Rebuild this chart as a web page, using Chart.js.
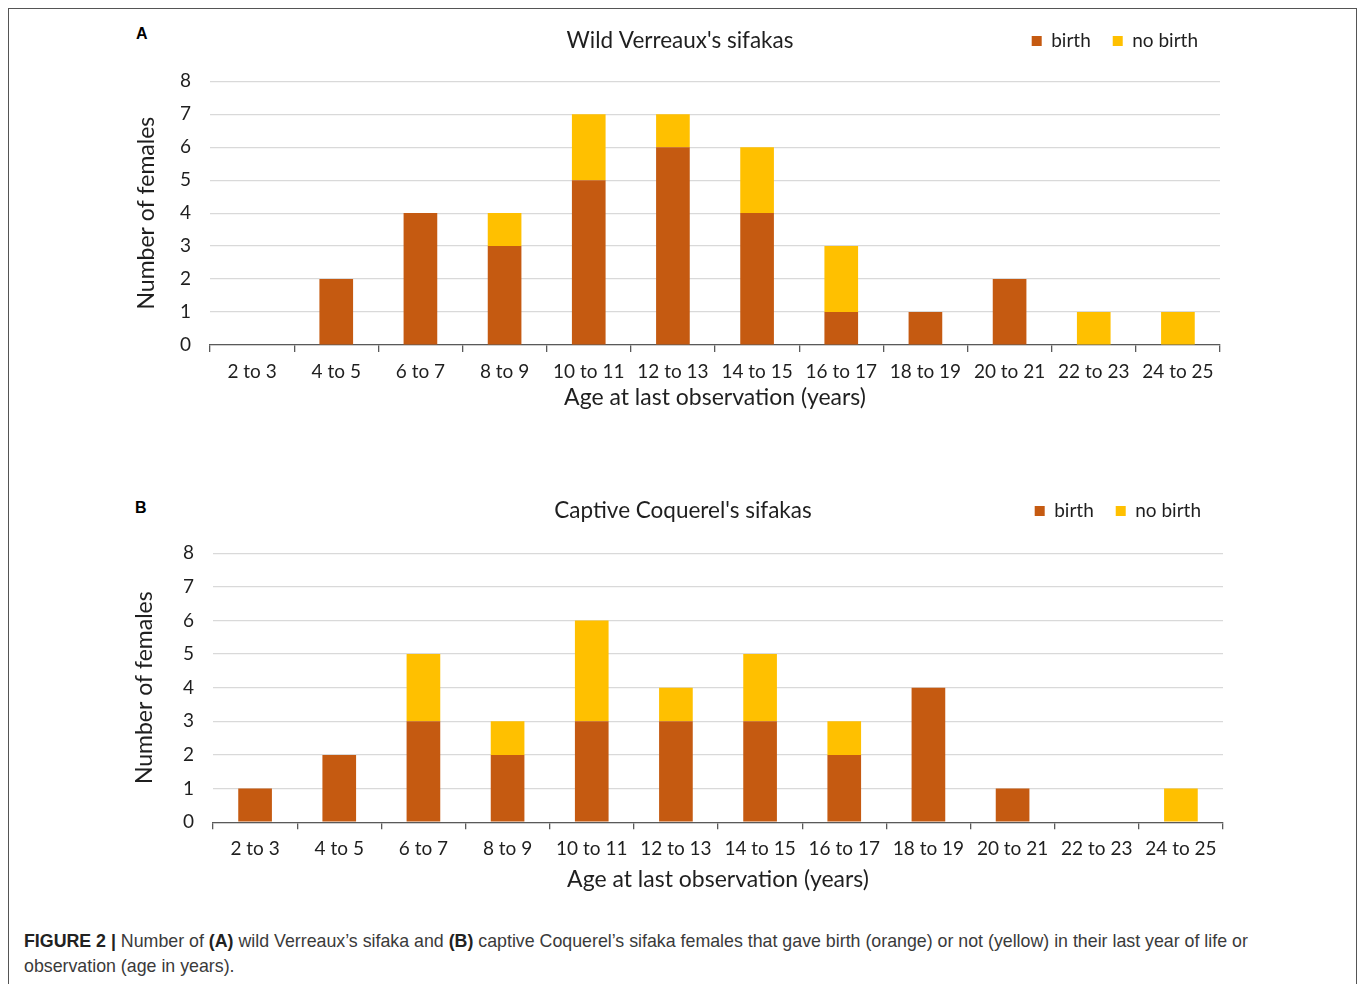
<!DOCTYPE html>
<html>
<head>
<meta charset="utf-8">
<script src="https://cdn.jsdelivr.net/npm/chart.js@4.4.1/dist/chart.umd.min.js"></script>
<style>
  html, body { margin: 0; padding: 0; background: #fff; }
  body { width: 1358px; height: 984px; position: relative; overflow: hidden; }
  #frame { position: absolute; left: 8px; top: 8px; width: 1347px; height: 1000px; border: 1px solid #555; }
  .panel { position: absolute; }
  .letter { position: absolute; font: bold 16px "Liberation Sans", Arial, sans-serif; color: #000; }
  #caption { position: absolute; left: 24px; top: 929px; width: 1245px; font: 17.8px/25px "Liberation Sans", Arial, sans-serif; color: #3a3a3a; }
  #caption b { color: #222; }
</style>
</head>
<body>
<div id="frame"></div>
<div class="letter" style="left:136px; top:25px;">A</div>
<div class="letter" style="left:135px; top:499px;">B</div>
<div class="panel" style="left:120px; top:0px; width:1120px; height:440px;"><canvas id="chartA"></canvas></div>
<div class="panel" style="left:123px; top:470px; width:1120px; height:440px;"><canvas id="chartB"></canvas></div>
<div id="caption"><b>FIGURE 2 |</b> Number of <b>(A)</b> wild Verreaux’s sifaka and <b>(B)</b> captive Coquerel’s sifaka females that gave birth (orange) or not (yellow) in their last year of life or observation (age in years).</div>

<script>
// Data
const ageBins = ['2 to 3', '4 to 5', '6 to 7', '8 to 9', '10 to 11', '12 to 13',
  '14 to 15', '16 to 17', '18 to 19', '20 to 21', '22 to 23', '24 to 25'];
const wildBirth = [0, 2, 4, 3, 5, 6, 4, 1, 1, 2, 0, 0];
const wildNoBirth = [0, 0, 0, 1, 2, 1, 2, 2, 0, 0, 1, 1];
const captiveBirth = [1, 2, 3, 2, 3, 3, 3, 2, 4, 1, 0, 0];
const captiveNoBirth = [0, 0, 2, 1, 3, 1, 2, 1, 0, 0, 0, 1];
const yMax = 8;
const seriesNames = ['birth', 'no birth'];

const FONT = 'Lato, "Open Sans", sans-serif';
const TEXT = '#1f1f1f';

// Draws the chart title on the legend row, centred on the canvas
const titleOnLegendRow = {
  id: 'titleOnLegendRow',
  beforeInit(chart) {
    const extra = chart.options.plugins.titleOnLegendRow.extra || 0;
    const origFit = chart.legend.fit;
    chart.legend.fit = function fit() {
      origFit.bind(chart.legend)();
      this.height += extra;
    };
  },
  afterDraw(chart, args, opts) {
    const box = chart.legend.legendHitBoxes[0];
    const ctx = chart.ctx;
    ctx.save();
    ctx.font = '22.5px ' + FONT;
    ctx.fillStyle = TEXT;
    ctx.textAlign = 'center';
    ctx.textBaseline = 'middle';
    ctx.fillText(opts.text, chart.width / 2, box.top + box.height / 2);
    ctx.restore();
  }
};

function makePanel(id, title, birth, noBirth, g) {
  return new Chart(document.getElementById(id), {
    type: 'bar',
    data: {
      labels: ageBins,
      datasets: [
        { label: seriesNames[0], data: birth, backgroundColor: '#C55A11' },
        { label: seriesNames[1], data: noBirth, backgroundColor: '#FFC000' }
      ]
    },
    plugins: [titleOnLegendRow],
    options: {
      responsive: true,
      maintainAspectRatio: false,
      animation: false,
      layout: { padding: { top: g.padTop, bottom: g.padBottom, left: 0, right: 20 } },
      datasets: { bar: { barPercentage: 0.4, categoryPercentage: 1.0, borderWidth: 0 } },
      plugins: {
        titleOnLegendRow: { text: title, extra: g.extra },
        tooltip: { enabled: false },
        legend: {
          position: 'top',
          align: 'end',
          labels: {
            boxWidth: 10,
            boxHeight: 10,
            padding: 22,
            color: TEXT,
            font: { family: FONT, size: 19 }
          }
        }
      },
      scales: {
        x: {
          stacked: true,
          afterFit: s => { s.height = g.xHeight; },
          grid: { drawOnChartArea: false, offset: true, tickLength: 7, color: '#595959', lineWidth: 1.3 },
          border: { color: '#595959', width: 1.3 },
          ticks: { color: TEXT, padding: 8, font: { family: FONT, size: 19 } },
          title: {
            display: true,
            text: 'Age at last observation (years)',
            color: TEXT,
            padding: { top: 0, bottom: 0 },
            font: { family: FONT, size: 23 }
          }
        },
        y: {
          stacked: true,
          min: 0,
          max: yMax,
          afterFit: s => { s.width = g.yWidth; },
          grid: { color: '#d9d9d9', drawTicks: false, lineWidth: 1.2 },
          border: { display: false },
          ticks: { stepSize: 1, color: TEXT, padding: 19, font: { family: FONT, size: 19 } },
          title: {
            display: true,
            text: 'Number of females',
            color: TEXT,
            padding: { top: g.yTitlePad, bottom: 0 },
            font: { family: FONT, size: 23 }
          }
        }
      }
    }
  });
}

makePanel('chartA', "Wild Verreaux's sifakas", wildBirth, wildNoBirth,
  { padTop: 9.6, extra: 20.6, padBottom: 29, xHeight: 66, yWidth: 90, yTitlePad: 13.2 });
makePanel('chartB', "Captive Coquerel's sifakas", captiveBirth, captiveNoBirth,
  { padTop: 9.6, extra: 22.6, padBottom: 16.8, xHeight: 71, yWidth: 90, yTitlePad: 8.2 });
</script>
</body>
</html>
